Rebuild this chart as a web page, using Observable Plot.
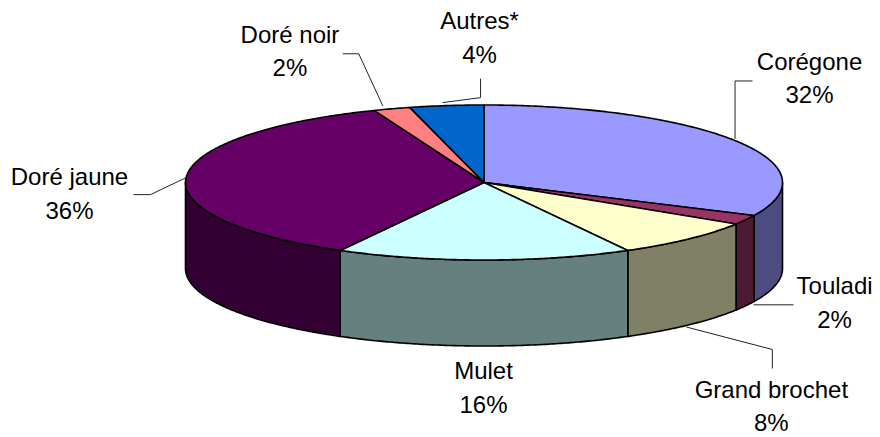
<!DOCTYPE html>
<html><head><meta charset="utf-8">
<script src="https://cdn.jsdelivr.net/npm/d3@7"></script>
<script src="https://cdn.jsdelivr.net/npm/@observablehq/plot@0.6"></script>
<style>html,body{margin:0;padding:0;background:#fff;} #chart{width:880px;height:437px;}</style>
</head><body><div id="chart"></div>
<script>
// ---- data ----
const categories = ["Corégone", "Touladi", "Grand brochet", "Mulet", "Doré jaune", "Doré noir", "Autres*"];
const shares = [32, 2, 8, 16, 36, 2, 4];

// ---- styles ----
const topColors = ["#9999FF", "#993366", "#FFFFCC", "#CCFFFF", "#660066", "#FF8080", "#0066CC"];
const sideColors = ["#4C4C80", "#4D1933", "#808066", "#668080", "#330033", "#804040", "#003366"];

// ---- layout (pixels) ----
const W = 880, H = 437, CX = 483.5, CY = 182, RX = 298.5, RY = 77.5, DEPTH = 86;
const FONT = "'Liberation Sans', Arial, Helvetica, sans-serif";
// leader polyline offsets and text offsets (px) relative to each slice's anchor on the pie edge
const labelLayout = [
  {anchor: "top",    leader: [[-1, -2], [-1, -60], [16.5, -60]],      text: [73.5, -37.5]},
  {anchor: "bottom", leader: [[8, -1], [48, -1]],                     text: [89, 22]},
  {anchor: "bottom", leader: [[-2, 2], [84, 24.5], [84, 43.5]],       text: [83, 106.5]},
  {anchor: "bottom", leader: [],                                      text: [-0.5, 66.5]},
  {anchor: "top",    leader: [[0, 0], [-35.6, 17], [-52.6, 17]],      text: [-116.6, 40.9]},
  {anchor: "top",    leader: [[-9, -3], [-33, -55], [-49, -55]],      text: [-101.8, -32.3]},
  {anchor: "top",    leader: [[-4, -3], [34, -8], [34, -27]],         text: [32.9, -42.6]}
];

const tilt = RY / RX, depth = DEPTH / RX, k = 1 / RX;
const total = d3.sum(shares);
let acc = 0;
const slices = shares.map((v, i) => {
  const a0 = acc / total * 2 * Math.PI; acc += v;
  const a1 = acc / total * 2 * Math.PI;
  return {i, a0, a1, mid: (a0 + a1) / 2};
});
const pt = (a, h = 0) => ({x: Math.sin(a), y: Math.cos(a) * tilt - h});
function arc(a0, a1, h) {
  const n = Math.max(2, Math.ceil((a1 - a0) / (Math.PI / 360)));
  return d3.range(n + 1).map(j => pt(a0 + (a1 - a0) * j / n, h));
}

const marks = [];
// side walls (front half only)
for (const s of slices) {
  const s0 = Math.max(s.a0, Math.PI / 2), s1 = Math.min(s.a1, 3 * Math.PI / 2);
  if (s1 <= s0) continue;
  const poly = arc(s0, s1, 0).concat(arc(s0, s1, depth).reverse());
  poly.push(poly[0]);
  marks.push(Plot.line(poly, {x: "x", y: "y", fill: sideColors[s.i], stroke: "#000", strokeWidth: 1.6, strokeLinejoin: "round"}));
}
// top faces
for (const s of slices) {
  const c = {x: 0, y: 0};
  const poly = [c, ...arc(s.a0, s.a1, 0), c];
  marks.push(Plot.line(poly, {x: "x", y: "y", fill: topColors[s.i], stroke: "#000", strokeWidth: 1.6, strokeLinejoin: "round"}));
}
// labels and leaders
for (const s of slices) {
  const L = labelLayout[s.i];
  const a = pt(s.mid, L.anchor === "bottom" ? depth : 0);
  if (L.leader.length) {
    const lp = L.leader.map(([dx, dy]) => ({x: a.x + dx * k, y: a.y - dy * k}));
    marks.push(Plot.line(lp, {x: "x", y: "y", stroke: "#222", strokeWidth: 1, strokeLinecap: "butt"}));
  }
  marks.push(Plot.text([a], {
    x: "x", y: "y",
    text: () => `${categories[s.i]}\n${shares[s.i]}%`,
    dx: L.text[0], dy: L.text[1],
    lineAnchor: "bottom", lineHeight: 1.4, textAnchor: "middle",
    fontSize: 24, fontFamily: FONT, fill: "#000"
  }));
}

const chart = Plot.plot({
  width: W, height: H, margin: 0,
  x: {domain: [-CX / RX, (W - CX) / RX], axis: null},
  y: {domain: [-(H - CY) / RX, CY / RX], axis: null},
  style: {background: "#fff", fontFamily: FONT},
  marks
});
document.getElementById("chart").append(chart);
</script>
</body></html>
